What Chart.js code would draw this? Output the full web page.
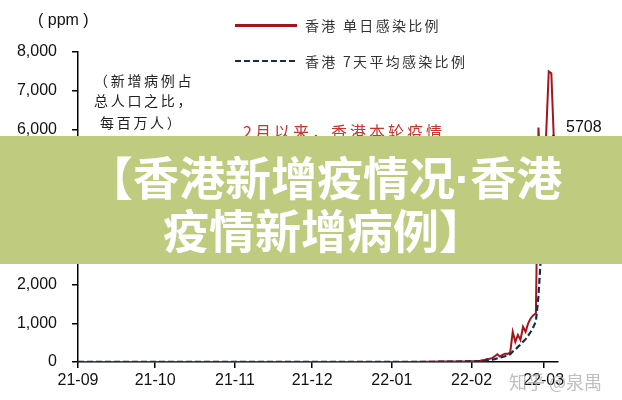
<!DOCTYPE html>
<html>
<head>
<meta charset="utf-8">
<script src="https://cdn.jsdelivr.net/npm/chart.js@4/dist/chart.umd.min.js"></script>
<style>
  body { margin: 0; background: #fff; }
  #wrap { position: relative; width: 622px; height: 400px; overflow: hidden; }
  .txt { position: absolute; white-space: nowrap; }
  .cjk { font-family: "Noto Sans CJK SC", sans-serif; }
  .lat { font-family: "Liberation Sans", Arial, sans-serif; }
</style>
</head>
<body>
<div id="wrap">
  <canvas id="grafico" width="622" height="400"></canvas>

  <div class="txt lat" style="left:38px; top:12px; font-size:16px; line-height:16px; color:#111;">( ppm )</div>

  <!-- leyenda -->
  <div class="txt" style="left:235px; top:24px; width:62px; height:2.5px; background:#a3161b;"></div>
  <div class="txt cjk" style="left:305px; top:18px; font-size:14px; line-height:15px; color:#333; letter-spacing:2.3px;">香港 单日感染比例</div>
  <div class="txt" style="left:235px; top:59.5px; width:62px; height:2.5px; background:repeating-linear-gradient(to right, #1b2a4a 0 6px, transparent 6px 9px);"></div>
  <div class="txt cjk" style="left:305px; top:54px; font-size:14px; line-height:15px; color:#333; letter-spacing:2.3px;">香港 7天平均感染比例</div>

  <!-- notas -->
  <div class="txt cjk" style="left:94px; top:73px; font-size:14px; line-height:15px; color:#222; letter-spacing:2.7px;">（新增病例占</div>
  <div class="txt cjk" style="left:94px; top:93px; font-size:14px; line-height:15px; color:#222; letter-spacing:2.7px;">总人口之比，</div>
  <div class="txt cjk" style="left:100px; top:115px; font-size:14px; line-height:15px; color:#222; letter-spacing:2.7px;">每百万人）</div>
  <div class="txt cjk" style="left:243px; top:123px; font-size:16px; line-height:17px; color:#c8352f; letter-spacing:3px;">2月以来，香港本轮疫情</div>
  <div class="txt lat" style="left:566px; top:119px; font-size:16px; line-height:16px; color:#111;">5708</div>

  <!-- banda -->
  <div class="txt" style="left:0; top:136px; width:622px; height:128px; background:#bfcb7f;"></div>
  <div class="txt cjk" style="left:87px; top:151px; font-size:46px; line-height:48px; font-weight:bold; color:#fff;">【香港新增疫情况<span class="lat" style="font-weight:bold;">·</span>香港</div>
  <div class="txt cjk" style="left:163px; top:204px; font-size:46px; line-height:48px; font-weight:bold; color:#fff;">疫情新增病例】</div>

  <div class="txt cjk" style="left:509px; top:371px; font-size:18px; line-height:20px; color:rgba(170,170,170,0.75);">知乎 @泉禺</div>
</div>

<script>
// Fechas (muestras) y valores en ppm
var fechas = [
  '2021-09-01', '2021-09-15', '2021-10-01', '2021-10-15', '2021-11-01', '2021-11-15',
  '2021-12-01', '2021-12-15', '2022-01-01', '2022-01-08', '2022-01-15', '2022-01-22', '2022-01-29',
  '2022-02-01', '2022-02-02', '2022-02-03', '2022-02-04', '2022-02-05', '2022-02-06', '2022-02-07',
  '2022-02-08', '2022-02-09', '2022-02-10', '2022-02-11', '2022-02-12', '2022-02-13', '2022-02-14',
  '2022-02-15', '2022-02-16', '2022-02-17', '2022-02-18', '2022-02-19', '2022-02-20', '2022-02-21',
  '2022-02-22', '2022-02-23', '2022-02-24', '2022-02-25', '2022-02-26', '2022-02-27', '2022-02-28',
  '2022-03-01', '2022-03-02', '2022-03-03', '2022-03-04', '2022-03-05'
];

var diario = [
  1, 1, 1, 0, 1, 1,
  1, 2, 2, 3, 6, 12, 16,
  20, 18, 25, 20, 45, 48, 80,
  85, 100, 150, 200, 140, 185, 215,
  210, 240, 780, 520, 700, 570, 910,
  780, 1000, 1130, 1210, 1260, 6050, 4500,
  4300, 5900, 7500, 7450, 5708
];

var promedio7 = [
  1, 1, 1, 1, 1, 1,
  1, 1, 2, 3, 5, 10, 14,
  15, 17, 19, 21, 25, 30, 38,
  46, 58, 75, 95, 110, 130, 150,
  170, 200, 270, 320, 390, 450, 520,
  590, 680, 780, 900, 1050, 1700, 2800,
  3200, 4000, 4800, 5600, 5900
];

var meses = ['21-09', '21-10', '21-11', '21-12', '22-01', '22-02', '22-03'];
var inicioMes = ['2021-09-01', '2021-10-01', '2021-11-01', '2021-12-01', '2022-01-01', '2022-02-01', '2022-03-01'];
var finEje = 186.4; // dias desde 2021-09-01

function dia(s) {
    var p = s.split('-').map(Number);
    return (Date.UTC(p[0], p[1] - 1, p[2]) - Date.UTC(2021, 8, 1)) / 86400000;
}

var posMes = inicioMes.map(dia);
var serieDiaria = fechas.map(function (f, i) { return { x: dia(f), y: diario[i] }; });
var serieMedia = fechas.map(function (f, i) { return { x: dia(f), y: promedio7[i] }; });

var fuente = { family: '"Liberation Sans", Arial, sans-serif', size: 16 };

var ctx = document.getElementById('grafico').getContext('2d');
var grafico = new Chart(ctx, {
    type: 'line',
    data: {
        datasets: [{
            label: '香港 7天平均感染比例',
            data: serieMedia,
            borderColor: '#1b2a4a',
            borderWidth: 2.2,
            borderDash: [6, 3],
            pointRadius: 0,
            tension: 0
        }, {
            label: '香港 单日感染比例',
            data: serieDiaria,
            borderColor: '#a3161b',
            borderWidth: 2,
            pointRadius: 0,
            tension: 0
        }]
    },
    options: {
        responsive: false,
        animation: false,
        devicePixelRatio: 1,
        layout: { padding: { left: 0, right: 64.5, top: 52, bottom: 0 } },
        plugins: { legend: { display: false }, tooltip: { enabled: false } },
        scales: {
            x: {
                type: 'linear',
                min: 0,
                max: finEje,
                afterBuildTicks: function (eje) {
                    eje.ticks = posMes.map(function (v) { return { value: v }; });
                },
                afterFit: function (eje) { eje.height = 38; },
                ticks: {
                    autoSkip: false,
                    maxRotation: 0,
                    padding: 3,
                    color: '#111',
                    font: fuente,
                    callback: function (v) { return meses[posMes.indexOf(v)]; }
                },
                grid: { drawOnChartArea: false, tickLength: 6, color: '#000', lineWidth: 1.5 },
                border: { color: '#000', width: 1.5 }
            },
            y: {
                min: 0,
                max: 8000,
                afterFit: function (eje) { eje.width = 78; },
                ticks: {
                    stepSize: 1000,
                    padding: 15,
                    color: '#111',
                    font: fuente,
                    callback: function (v) { return v.toLocaleString('en-US'); }
                },
                grid: { drawOnChartArea: false, tickLength: 6, color: '#000', lineWidth: 1.5 },
                border: { color: '#000', width: 1.5 }
            }
        }
    }
});
</script>
</body>
</html>
